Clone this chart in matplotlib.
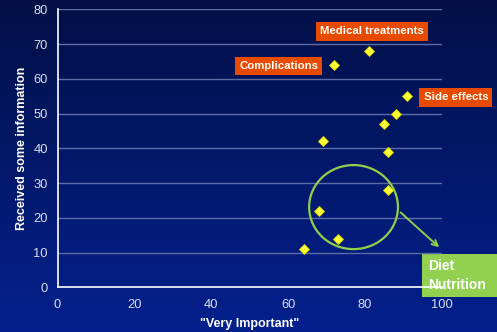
import numpy as np
import matplotlib
matplotlib.use("Agg")
import matplotlib.pyplot as plt
from matplotlib.patches import Ellipse, Rectangle
from matplotlib.colors import LinearSegmentedColormap

plt.rcParams['font.family'] = ['Liberation Sans', 'DejaVu Sans']

# Share rating "Very Important" vs. share that received some information
very_important = [81, 72, 91, 88, 85, 69, 86, 86, 68, 73, 64]
received_info = [68, 64, 55, 50, 47, 42, 39, 28, 22, 14, 11]

callouts = ["Medical treatments", "Complications", "Side effects"]
callout_pos = [(81.8, 73.7), (57.5, 63.7), (103.6, 54.7)]
group_label = "Diet\nNutrition"

x_ticks = [0, 20, 40, 60, 80, 100]
y_ticks = [0, 10, 20, 30, 40, 50, 60, 70, 80]

fig = plt.figure(figsize=(4.97, 3.32), dpi=100)

# vertical navy gradient background
bg = fig.add_axes([0, 0, 1, 1], zorder=-10)
cmap = LinearSegmentedColormap.from_list("navy", ["#021046", "#04208e"])
grad = np.linspace(0, 1, 256).reshape(-1, 1)
bg.imshow(grad, aspect="auto", cmap=cmap, extent=[0, 1, 0, 1], origin="upper")
bg.set_xlim(0, 1)
bg.set_ylim(0, 1)
bg.set_axis_off()

ax = fig.add_axes([0.1157, 0.1346, 0.7736, 0.8368])
ax.patch.set_alpha(0)
ax.set_xlim(0, 100)
ax.set_ylim(0, 80)
ax.set_xticks(x_ticks)
ax.set_yticks(y_ticks)
ax.tick_params(length=0, colors="#d8deea", labelsize=9.3, pad=7)
ax.tick_params(axis="x", pad=8.5)
for side in ("top", "right"):
    ax.spines[side].set_visible(False)
for side in ("left", "bottom"):
    ax.spines[side].set_color("white")
    ax.spines[side].set_linewidth(1.2)
for y in y_ticks[1:]:
    ax.axhline(y, color="#5d6ca6", lw=1.0, zorder=1)

ax.set_xlabel('"Very Important"', color="white", fontsize=9, fontweight="bold", labelpad=5)
ax.set_ylabel("Received some information", color="white", fontsize=9, fontweight="bold", labelpad=4)

ax.plot(very_important, received_info, linestyle="none", marker="D", markersize=5.5,
        markerfacecolor="#ffff33", markeredgecolor="#d8d800", markeredgewidth=0.6, zorder=5)

for text, (x, y) in zip(callouts, callout_pos):
    ax.text(x, y, text, ha="center", va="center", color="white", fontsize=8.2, fontweight="bold",
            bbox=dict(boxstyle="square,pad=0.38", fc="#e84a00", ec="none"), clip_on=False, zorder=6)

ax.add_patch(Ellipse((77.0, 23.1), 23.1, 24.2, fill=False, ec="#8fcf4c", lw=1.6, zorder=4))
ax.annotate("", xy=(99.8, 11.0), xytext=(88.7, 22.1),
            arrowprops=dict(arrowstyle="->", color="#8fcf4c", lw=1.4, mutation_scale=10),
            annotation_clip=False, zorder=4)

# green group box, anchored to the right edge of the figure
bg.add_patch(Rectangle((0.849, 0.1045), 0.151, 0.1305, fc="#92d050", ec="none", zorder=3))
fig.text(0.862, 0.170, group_label, ha="left", va="center", color="white", fontsize=10,
         fontweight="bold", linespacing=1.45, zorder=7)

fig.savefig("out.png", dpi=100)
